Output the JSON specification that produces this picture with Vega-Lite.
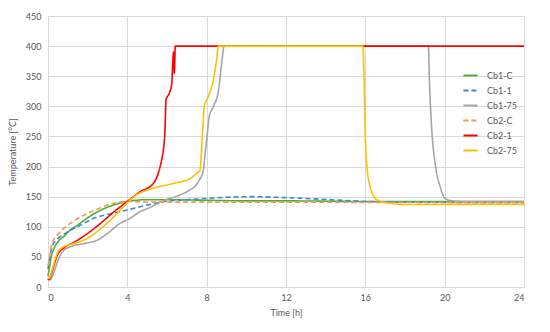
{
  "$schema": "https://vega.github.io/schema/vega-lite/v6.json",
  "width": 476,
  "height": 271,
  "autosize": "none",
  "padding": {"left": 48, "top": 16, "right": 26, "bottom": 45},
  "background": "white",
  "config": {
    "font": "Lato",
    "view": {"stroke": "#d9d9d9", "strokeWidth": 1},
    "axis": {"labelColor": "#595959", "titleColor": "#595959", "labelFontSize": 9, "titleFontSize": 9, "titleFontWeight": "normal", "gridColor": "#d9d9d9", "domain": false, "ticks": false},
    "legend": {"labelColor": "#595959", "labelFontSize": 9}
  },
  "data": {"values": [
    {"s":"Cb1-C","t":0,"v":18},{"s":"Cb1-C","t":0.05,"v":28},{"s":"Cb1-C","t":0.15,"v":48},{"s":"Cb1-C","t":0.3,"v":64},{"s":"Cb1-C","t":0.5,"v":75},{"s":"Cb1-C","t":0.8,"v":84},{"s":"Cb1-C","t":1.1,"v":94},{"s":"Cb1-C","t":1.5,"v":103},{"s":"Cb1-C","t":2,"v":115},{"s":"Cb1-C","t":2.5,"v":125},{"s":"Cb1-C","t":3.2,"v":135},{"s":"Cb1-C","t":4,"v":142},{"s":"Cb1-C","t":5,"v":145},{"s":"Cb1-C","t":6,"v":145},{"s":"Cb1-C","t":8,"v":144},{"s":"Cb1-C","t":10,"v":143},{"s":"Cb1-C","t":12,"v":143},{"s":"Cb1-C","t":16,"v":142},{"s":"Cb1-C","t":20,"v":142},{"s":"Cb1-C","t":24,"v":142},
    {"s":"Cb1-1","t":0,"v":30},{"s":"Cb1-1","t":0.05,"v":40},{"s":"Cb1-1","t":0.2,"v":67},{"s":"Cb1-1","t":0.4,"v":77},{"s":"Cb1-1","t":0.64,"v":84},{"s":"Cb1-1","t":1,"v":92},{"s":"Cb1-1","t":1.5,"v":100},{"s":"Cb1-1","t":2.3,"v":114},{"s":"Cb1-1","t":3.2,"v":122},{"s":"Cb1-1","t":4,"v":128},{"s":"Cb1-1","t":5,"v":136},{"s":"Cb1-1","t":5.8,"v":141.5},{"s":"Cb1-1","t":7,"v":145},{"s":"Cb1-1","t":8,"v":147},{"s":"Cb1-1","t":9,"v":149},{"s":"Cb1-1","t":10.3,"v":150},{"s":"Cb1-1","t":11.5,"v":149},{"s":"Cb1-1","t":13,"v":147},{"s":"Cb1-1","t":14.5,"v":144.5},{"s":"Cb1-1","t":16.5,"v":141.5},{"s":"Cb1-1","t":19,"v":140.5},{"s":"Cb1-1","t":24,"v":140},
    {"s":"Cb1-75","t":0,"v":15},{"s":"Cb1-75","t":0.1,"v":12},{"s":"Cb1-75","t":0.3,"v":25},{"s":"Cb1-75","t":0.55,"v":48},{"s":"Cb1-75","t":0.8,"v":61},{"s":"Cb1-75","t":1.14,"v":67},{"s":"Cb1-75","t":1.8,"v":72},{"s":"Cb1-75","t":2.5,"v":78},{"s":"Cb1-75","t":3,"v":89},{"s":"Cb1-75","t":3.6,"v":105},{"s":"Cb1-75","t":4.13,"v":114},{"s":"Cb1-75","t":4.64,"v":125},{"s":"Cb1-75","t":5.14,"v":132},{"s":"Cb1-75","t":5.8,"v":143},{"s":"Cb1-75","t":6.66,"v":153},{"s":"Cb1-75","t":7.1,"v":160},{"s":"Cb1-75","t":7.58,"v":175},{"s":"Cb1-75","t":7.83,"v":194},{"s":"Cb1-75","t":7.95,"v":230},{"s":"Cb1-75","t":8.0,"v":244},{"s":"Cb1-75","t":8.13,"v":283},{"s":"Cb1-75","t":8.34,"v":300},{"s":"Cb1-75","t":8.6,"v":327},{"s":"Cb1-75","t":8.76,"v":372},{"s":"Cb1-75","t":8.88,"v":400},{"s":"Cb1-75","t":19.18,"v":400},{"s":"Cb1-75","t":19.23,"v":344},{"s":"Cb1-75","t":19.35,"v":261},{"s":"Cb1-75","t":19.52,"v":205},{"s":"Cb1-75","t":19.77,"v":167},{"s":"Cb1-75","t":20.02,"v":147},{"s":"Cb1-75","t":20.4,"v":143},{"s":"Cb1-75","t":21,"v":142},{"s":"Cb1-75","t":24,"v":142},
    {"s":"Cb2-C","t":0,"v":35},{"s":"Cb2-C","t":0.05,"v":45},{"s":"Cb2-C","t":0.2,"v":72},{"s":"Cb2-C","t":0.55,"v":89},{"s":"Cb2-C","t":1.14,"v":106},{"s":"Cb2-C","t":2,"v":122},{"s":"Cb2-C","t":3,"v":136},{"s":"Cb2-C","t":4,"v":142},{"s":"Cb2-C","t":5,"v":141},{"s":"Cb2-C","t":6,"v":141},{"s":"Cb2-C","t":8,"v":141},{"s":"Cb2-C","t":12,"v":141},{"s":"Cb2-C","t":16,"v":140.5},{"s":"Cb2-C","t":24,"v":140},
    {"s":"Cb2-1","t":0,"v":14},{"s":"Cb2-1","t":0.05,"v":12},{"s":"Cb2-1","t":0.2,"v":25},{"s":"Cb2-1","t":0.47,"v":53},{"s":"Cb2-1","t":0.8,"v":65},{"s":"Cb2-1","t":1.3,"v":74},{"s":"Cb2-1","t":2,"v":89},{"s":"Cb2-1","t":2.66,"v":106},{"s":"Cb2-1","t":3.33,"v":125},{"s":"Cb2-1","t":4,"v":142},{"s":"Cb2-1","t":4.64,"v":158},{"s":"Cb2-1","t":5.31,"v":172},{"s":"Cb2-1","t":5.56,"v":189},{"s":"Cb2-1","t":5.73,"v":211},{"s":"Cb2-1","t":5.82,"v":228},{"s":"Cb2-1","t":5.9,"v":261},{"s":"Cb2-1","t":5.95,"v":311},{"s":"Cb2-1","t":6.12,"v":322},{"s":"Cb2-1","t":6.24,"v":338},{"s":"Cb2-1","t":6.29,"v":372},{"s":"Cb2-1","t":6.33,"v":390},{"s":"Cb2-1","t":6.37,"v":355},{"s":"Cb2-1","t":6.42,"v":400},{"s":"Cb2-1","t":12,"v":400},{"s":"Cb2-1","t":24,"v":400},
    {"s":"Cb2-75","t":0,"v":17},{"s":"Cb2-75","t":0.05,"v":14},{"s":"Cb2-75","t":0.2,"v":28},{"s":"Cb2-75","t":0.47,"v":56},{"s":"Cb2-75","t":0.8,"v":67},{"s":"Cb2-75","t":1.3,"v":72},{"s":"Cb2-75","t":2,"v":81},{"s":"Cb2-75","t":2.66,"v":97},{"s":"Cb2-75","t":3.33,"v":117},{"s":"Cb2-75","t":4,"v":140},{"s":"Cb2-75","t":4.47,"v":153},{"s":"Cb2-75","t":5.31,"v":164},{"s":"Cb2-75","t":6.32,"v":172},{"s":"Cb2-75","t":7.16,"v":180},{"s":"Cb2-75","t":7.5,"v":189},{"s":"Cb2-75","t":7.66,"v":194},{"s":"Cb2-75","t":7.8,"v":261},{"s":"Cb2-75","t":7.88,"v":300},{"s":"Cb2-75","t":8.08,"v":316},{"s":"Cb2-75","t":8.34,"v":344},{"s":"Cb2-75","t":8.5,"v":377},{"s":"Cb2-75","t":8.59,"v":400},{"s":"Cb2-75","t":15.87,"v":400},{"s":"Cb2-75","t":15.94,"v":344},{"s":"Cb2-75","t":15.99,"v":261},{"s":"Cb2-75","t":16.07,"v":205},{"s":"Cb2-75","t":16.24,"v":167},{"s":"Cb2-75","t":16.57,"v":145},{"s":"Cb2-75","t":17.25,"v":139},{"s":"Cb2-75","t":18,"v":137},{"s":"Cb2-75","t":24,"v":137}
  ]},
  "mark": {"type": "line", "interpolate": "monotone", "strokeWidth": 1.6},
  "encoding": {
    "x": {"field": "t", "type": "quantitative", "title": "Time [h]",
          "scale": {"domain": [0, 24], "nice": false},
          "axis": {"values": [0, 4, 8, 12, 16, 20, 24], "labelPadding": 6, "titlePadding": 6}},
    "y": {"field": "v", "type": "quantitative", "title": "Temperature [°C]",
          "scale": {"domain": [0, 450], "nice": false},
          "axis": {"values": [0, 50, 100, 150, 200, 250, 300, 350, 400, 450], "labelPadding": 7, "titlePadding": 8}},
    "color": {"field": "s", "type": "nominal",
              "scale": {"domain": ["Cb1-C", "Cb1-1", "Cb1-75", "Cb2-C", "Cb2-1", "Cb2-75"],
                        "range": ["#4caf3a", "#3f86d6", "#a5a5a5", "#f59a4b", "#ff0000", "#ffc000"]},
              "legend": {"title": null, "orient": "none", "legendX": 411, "legendY": 51, "symbolType": "stroke", "symbolSize": 200, "symbolStrokeWidth": 2, "rowPadding": 1, "labelOffset": 8, "symbolOffset": 3}},
    "strokeDash": {"field": "s", "type": "nominal",
                   "scale": {"domain": ["Cb1-C", "Cb1-1", "Cb1-75", "Cb2-C", "Cb2-1", "Cb2-75"],
                             "range": [[1, 0], [5, 3], [1, 0], [5, 3], [1, 0], [1, 0]]},
                   "legend": null}
  }
}
